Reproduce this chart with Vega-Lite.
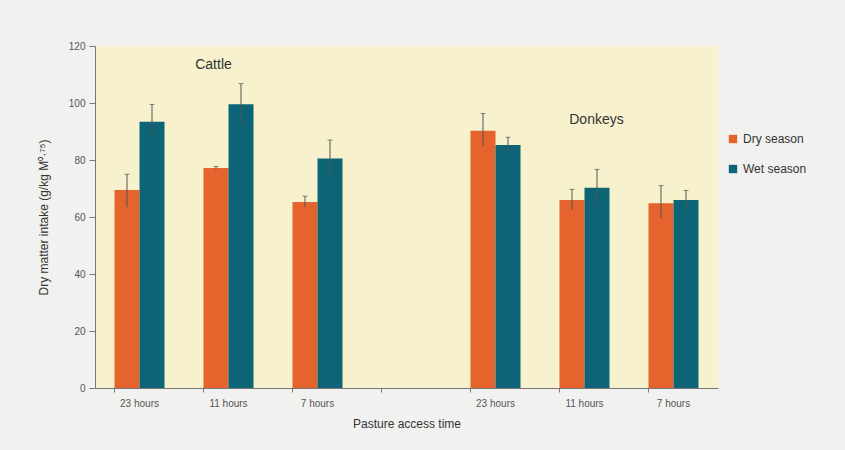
{
  "$schema": "https://vega.github.io/schema/vega-lite/v6.json",
  "width": 623,
  "height": 342,
  "autosize": {"type": "none"},
  "padding": {"left": 95, "top": 46, "right": 127, "bottom": 62},
  "background": "#f1f1ef",
  "config": {
    "view": {"fill": "#f7f2cd", "stroke": null},
    "font": "Liberation Sans",
    "axis": {"grid": false, "domainColor": "#777", "tickColor": "#777", "labelColor": "#555", "titleColor": "#333", "labelFont": "Liberation Sans", "titleFont": "Liberation Sans", "titleFontWeight": "normal"}
  },
  "datasets": {
    "bars": [
      {"slot": "C23", "season": "Dry season", "value": 69.5, "low": 63.5, "high": 75},
      {"slot": "C23", "season": "Wet season", "value": 93.4, "low": 87.5, "high": 99.5},
      {"slot": "C11", "season": "Dry season", "value": 77.2, "low": 76.7, "high": 77.7},
      {"slot": "C11", "season": "Wet season", "value": 99.6, "low": 92.5, "high": 106.8},
      {"slot": "C7", "season": "Dry season", "value": 65.3, "low": 63.5, "high": 67.3},
      {"slot": "C7", "season": "Wet season", "value": 80.5, "low": 74, "high": 87},
      {"slot": "D23", "season": "Dry season", "value": 90.3, "low": 85, "high": 96.3},
      {"slot": "D23", "season": "Wet season", "value": 85.3, "low": 83, "high": 88},
      {"slot": "D11", "season": "Dry season", "value": 66, "low": 62.5, "high": 69.7},
      {"slot": "D11", "season": "Wet season", "value": 70.3, "low": 64, "high": 76.7},
      {"slot": "D7", "season": "Dry season", "value": 64.8, "low": 59.5, "high": 71},
      {"slot": "D7", "season": "Wet season", "value": 66, "low": 63, "high": 69.3}
    ],
    "labels": [
      {"slot": "C11", "text": "Cattle", "y": 113.3, "shift": 10},
      {"slot": "D11", "text": "Donkeys", "y": 94, "shift": 37}
    ]
  },
  "layer": [
    {
      "data": {"name": "bars"},
      "mark": {"type": "bar"},
      "encoding": {
        "x": {"field": "slot", "type": "nominal", "sort": null,
          "scale": {"domain": ["C23", "C11", "C7", "GAP", "D23", "D11", "D7"], "paddingInner": 0.438, "paddingOuter": 0.219},
          "axis": {"title": "Pasture access time", "titleFontSize": 12, "titlePadding": 10, "labelAngle": 0, "labelFontSize": 10, "bandPosition": 0, "labelPadding": 6, "tickSize": 4,
            "labelExpr": "datum.value == 'GAP' ? '' : (slice(datum.value, 1) + ' hours')"}},
        "xOffset": {"field": "season", "type": "nominal", "scale": {"paddingInner": 0, "paddingOuter": 0}},
        "y": {"field": "value", "type": "quantitative",
          "scale": {"domain": [0, 120], "nice": false},
          "axis": {"title": "Dry matter intake (g/kg M⁰·⁷⁵)", "titleFontSize": 12, "titlePadding": 18, "values": [0, 20, 40, 60, 80, 100, 120], "labelFontSize": 10, "tickSize": 6, "labelPadding": 4}},
        "color": {"field": "season", "type": "nominal",
          "scale": {"domain": ["Dry season", "Wet season"], "range": ["#e5632d", "#0d6476"]},
          "legend": {"title": null, "orient": "none", "legendX": 632, "legendY": 87, "symbolType": "square", "symbolSize": 70, "labelFontSize": 12, "labelColor": "#333", "rowPadding": 18, "symbolStrokeWidth": 0}}
      }
    },
    {
      "data": {"name": "bars"},
      "mark": {"type": "rule", "color": "#555", "strokeWidth": 1},
      "encoding": {
        "x": {"field": "slot", "type": "nominal", "sort": null},
        "xOffset": {"field": "season", "type": "nominal"},
        "y": {"field": "low", "type": "quantitative"},
        "y2": {"field": "high"}
      }
    },
    {
      "data": {"name": "bars"},
      "mark": {"type": "tick", "color": "#555", "size": 5, "thickness": 1, "orient": "horizontal"},
      "encoding": {
        "x": {"field": "slot", "type": "nominal", "sort": null},
        "xOffset": {"field": "season", "type": "nominal"},
        "y": {"field": "high", "type": "quantitative"}
      }
    },
    {
      "data": {"name": "labels"},
      "mark": {"type": "text", "fontSize": 14, "color": "#333", "font": "Liberation Sans"},
      "encoding": {
        "x": {"field": "slot", "type": "nominal", "sort": null},
        "xOffset": {"field": "shift", "type": "quantitative", "scale": null},
        "y": {"field": "y", "type": "quantitative"},
        "text": {"field": "text"}
      }
    }
  ]
}
